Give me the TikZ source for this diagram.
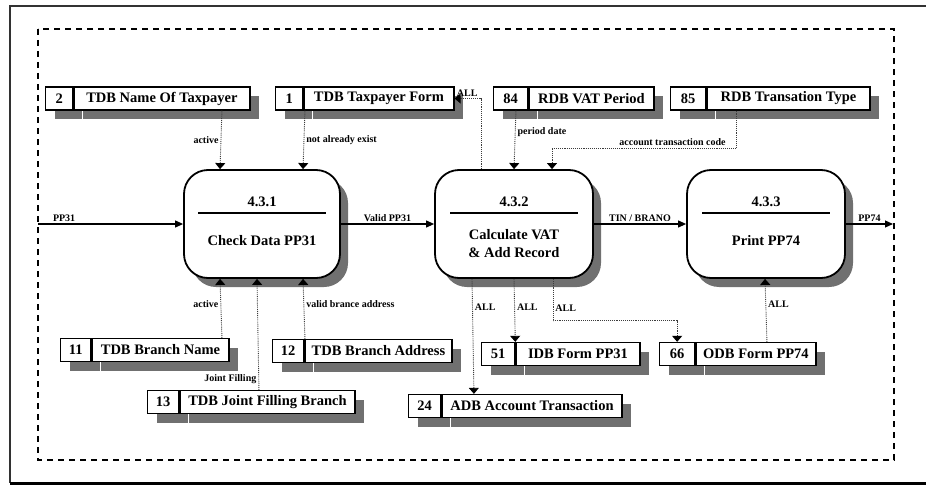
\documentclass[tikz,border=0pt]{standalone}
\usepackage{fontspec}
\setmainfont{Liberation Serif}
\usetikzlibrary{arrows.meta, positioning, shadows}
\definecolor{shadowgray}{RGB}{112,112,112}
\definecolor{framegray}{RGB}{50,50,50}
\definecolor{dotgray}{RGB}{60,60,60}

\tikzset{
  storenum/.style={draw, line width=1.3pt, fill=white, minimum height=23pt, inner sep=0pt,
    font=\fontsize{14.5}{16}\selectfont\bfseries,
    drop shadow={shadow xshift=9pt, shadow yshift=-9pt, fill=shadowgray, opacity=1}},
  storename/.style={storenum},
  process/.style={draw, line width=1.8pt, fill=white, rounded corners=24pt,
    minimum height=108pt,
    drop shadow={shadow xshift=8pt, shadow yshift=-9pt, fill=shadowgray, opacity=1}},
  ptext/.style={font=\fontsize{14.5}{18}\selectfont\bfseries, inner sep=1pt},
  flow/.style={line width=1.1pt, -{Triangle[length=8pt,width=7pt]}},
  dflow/.style={line width=0.9pt, dotgray, densely dotted, -{Triangle[length=6pt,width=10pt,color=black]}},
  lbl/.style={font=\fontsize{10}{11}\selectfont\bfseries, inner sep=2pt, text=black}
}

\begin{document}
\begin{tikzpicture}[x=1pt, y=-1pt]
        \useasboundingbox (0,0) rectangle (926,487);

        % Frame
        \draw[line width=1.6pt, framegray] (930,6) -- (10,6) -- (10,483);
        \draw[line width=3pt] (10,483) -- (930,483);
        \draw[line width=1.6pt, dash pattern=on 6pt off 5pt] (38,29) rectangle (894,460);

        % Processes
        \node[process, minimum width=156pt] (p1) at (262,224) {};
        \node[process, minimum width=158pt] (p2) at (514,224) {};
        \node[process, minimum width=158pt] (p3) at (766,224) {};
        \foreach \p/\id in {p1/4.3.1, p2/4.3.2, p3/4.3.3} {
          \node[ptext] (\p id) at ([yshift=22pt]\p.center) {\id};
          \draw[line width=1.8pt] ([xshift=-64pt,yshift=11pt]\p.center) -- ([xshift=64pt,yshift=11pt]\p.center);
        }
        \node[ptext] (p1txt) at ([yshift=-17pt]p1.center) {Check Data PP31};
        \node[ptext, align=center] (p2txt) at ([yshift=-20pt]p2.center) {Calculate VAT\\\& Add Record};
        \node[ptext] (p3txt) at ([yshift=-17pt]p3.center) {Print PP74};

        % Data stores, top row
        \node[storenum, minimum width=27pt, anchor=west] (s2c) at (45,98.5) {2};
        \node[storename, minimum width=176pt, right=0pt of s2c] (s2n) {TDB Name Of Taxpayer};
        \node[storenum, minimum width=27pt, anchor=west] (s1c) at (275,98.5) {1};
        \node[storename, minimum width=150pt, right=0pt of s1c] (s1n) {TDB Taxpayer Form};
        \node[storenum, minimum width=34pt, anchor=west] (s84c) at (493,98.5) {84};
        \node[storename, minimum width=125pt, right=0pt of s84c] (s84n) {RDB VAT Period};
        \node[storenum, minimum width=35pt, anchor=west] (s85c) at (670,98.5) {85};
        \node[storename, minimum width=163pt, right=0pt of s85c] (s85n) {RDB Transation Type};

        % Data stores, bottom rows
        \node[storenum, minimum width=30pt, anchor=west] (s11c) at (60,350) {11};
        \node[storename, minimum width=137pt, right=0pt of s11c] (s11n) {TDB Branch Name};
        \node[storenum, minimum width=31pt, anchor=west] (s12c) at (272,351) {12};
        \node[storename, minimum width=147pt, right=0pt of s12c] (s12n) {TDB Branch Address};
        \node[storenum, minimum width=31pt, anchor=west] (s13c) at (147,402) {13};
        \node[storename, minimum width=175pt, right=0pt of s13c] (s13n) {TDB Joint Filling Branch};
        \node[storenum, minimum width=32pt, anchor=west] (s24c) at (408,406) {24};
        \node[storename, minimum width=180pt, right=0pt of s24c] (s24n) {ADB Account Transaction};
        \node[storenum, minimum width=33pt, anchor=west] (s51c) at (481,354) {51};
        \node[storename, minimum width=124pt, right=0pt of s51c] (s51n) {IDB Form PP31};
        \node[storenum, minimum width=35pt, anchor=west] (s66c) at (659,354) {66};
        \node[storename, minimum width=120pt, right=0pt of s66c] (s66n) {ODB Form PP74};

        % Main flows
        \coordinate (in) at (38,224);
        \coordinate (out) at (893,224);
        \draw[flow] (in) -- node[lbl, above, pos=.18] {PP31} (p1.west);
        \draw[flow] (p1.east) -- node[lbl, above] {Valid PP31} (p2.west);
        \draw[flow] (p2.east) -- node[lbl, above] {TIN / BRANO} (p3.west);
        \draw[flow] (p3.east) -- node[lbl, above] {PP74} (out);

        % Store flows into 4.3.1
        \draw[dflow] ([xshift=60pt]s2n.south) -- node[lbl, left] {active} ([xshift=-42pt]p1.north);
        \draw[dflow] ([xshift=-74pt]s1n.south) -- node[lbl, right] {not already exist} ([xshift=41pt]p1.north);
        \draw[dflow] ([xshift=61.5pt]s11n.north) -- node[lbl, left, pos=.58] {active} ([xshift=-42pt]p1.south);
        \draw[dflow] ([xshift=-8.5pt]s13n.north) -- node[lbl, left, pos=.1] {Joint Filling} ([xshift=-5pt]p1.south);
        \draw[dflow] ([xshift=-73.5pt]s12n.north) -- node[lbl, right, pos=.58] {valid brance address} ([xshift=41pt]p1.south);

        % Flows around 4.3.2
        \draw[dflow] ([xshift=-33pt]p2.north) |- node[lbl, above, pos=.76] {ALL} (s1n.east);
        \draw[dflow] ([xshift=-75.5pt]s84n.south) -- node[lbl, right, pos=.37] {period date} (p2.north);
        \draw[dflow] ([xshift=-52.5pt]s85n.south) -- ++(0,37.5) node[lbl, above left, xshift=-8pt] {account transaction code}
          -| ([xshift=38pt]p2.north);
        \draw[dflow] ([xshift=-42pt]p2.south) -- node[lbl, right, pos=.25] {ALL} ([xshift=-58pt]s24n.north);
        \draw[dflow] (p2.south) -- node[lbl, right, pos=.45] {ALL} (s51n.north west);
        \draw[dflow] ([xshift=39pt]p2.south) -- node[lbl, right, pos=.7] {ALL} ++(0,42) -| (s66c.north);

        % Flow into 4.3.3
        \draw[dflow] ([xshift=11pt]s66n.north) -- node[lbl, right, pos=.6] {ALL} ([xshift=-1pt]p3.south);
    \end{tikzpicture}
\end{document}
